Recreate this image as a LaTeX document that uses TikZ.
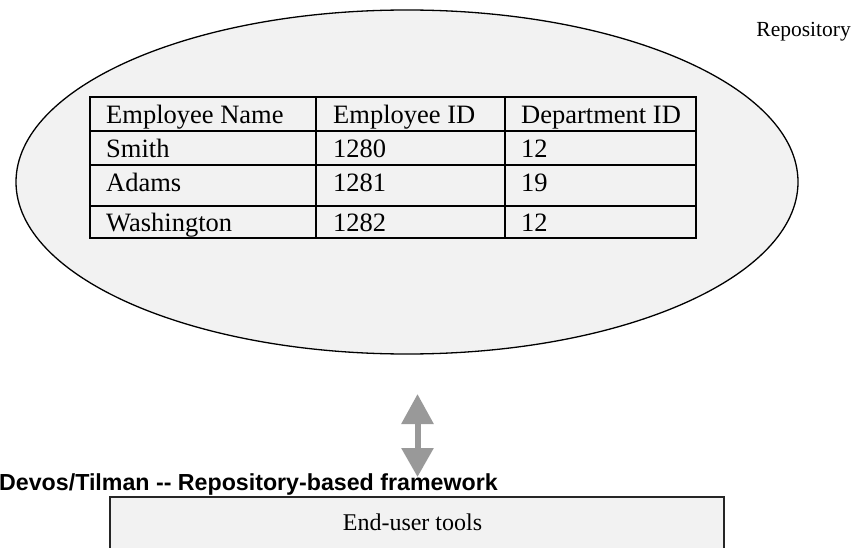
\documentclass[tikz,border=0pt]{standalone}
\usepackage{fontspec}
\setmainfont{Liberation Serif}
\newfontfamily\titlefont{Liberation Sans}
\usetikzlibrary{shapes.geometric,arrows.meta}
\definecolor{panel}{HTML}{F2F2F2}
\definecolor{arrowgray}{HTML}{999999}
\tikzset{
  cell/.style={anchor=base west, inner sep=0pt, font=\fontsize{26.5}{30}\selectfont},
  rule/.style={line width=2pt, black},
}
\begin{document}
\begin{tikzpicture}[x=1pt, y=-1pt]
  \useasboundingbox (0,0) rectangle (854,548);
  % repository ellipse
  \node[ellipse, draw, line width=1.3pt, fill=panel, minimum width=782pt,
        minimum height=344pt, inner sep=0pt] (repo) at (407,182) {};
  \node[anchor=base east, inner sep=0pt, font=\fontsize{21.5}{25}\selectfont]
        (repolabel) at (851,37) {Repository};
  % employee table
  \draw[rule] (90,97) rectangle (696,238);
  \draw[rule] (90,131) -- (696,131);
  \draw[rule] (90,165) -- (696,165);
  \draw[rule] (90,206) -- (696,206);
  \draw[rule] (316,97) -- (316,238);
  \draw[rule] (505,97) -- (505,238);
  \node[cell] (h1) at (106,124) {Employee Name};
  \node[cell] (h2) at (333,124) {Employee ID};
  \node[cell] (h3) at (521,124) {Department ID};
  \node[cell] (r1a) at (106,158) {Smith};
  \node[cell] (r1b) at (333,158) {1280};
  \node[cell] (r1c) at (521,158) {12};
  \node[cell] (r2a) at (106,192) {Adams};
  \node[cell] (r2b) at (333,192) {1281};
  \node[cell] (r2c) at (521,192) {19};
  \node[cell] (r3a) at (106,232) {Washington};
  \node[cell] (r3b) at (333,232) {1282};
  \node[cell] (r3c) at (521,232) {12};
  % two-way access arrow
  \coordinate (up) at (417.5,394);
  \coordinate (down) at (417.5,477);
  \draw[arrowgray, line width=6pt,
        {Triangle[width=31pt,length=30pt]}-{Triangle[width=31pt,length=29pt]}]
        (up) -- (down);
  % caption
  \node[anchor=base west, inner sep=0pt, font=\titlefont\bfseries\fontsize{23.2}{27}\selectfont]
        (title) at (-1,490) {Devos/Tilman -{}- Repository-based framework};
  % end-user tools panel
  \node[draw=black!85, line width=1.6pt, fill=panel, minimum width=614pt,
        minimum height=120pt, inner sep=0pt] (tools) at (417,557) {};
  \node[anchor=base, inner sep=0pt, font=\fontsize{24}{28}\selectfont]
        (toolslabel) at (412.5,530) {End-user tools};
\end{tikzpicture}
\end{document}
